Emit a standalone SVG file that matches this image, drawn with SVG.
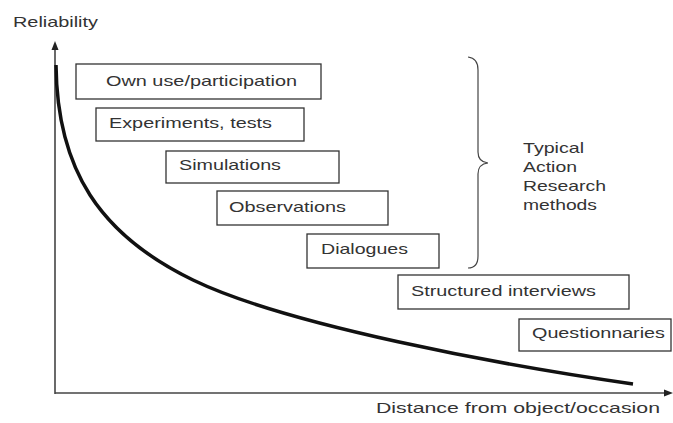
<svg xmlns="http://www.w3.org/2000/svg" width="673" height="423" viewBox="0 0 673 423">
<style>
.box{fill:#fff;stroke:#333;stroke-width:1.3}
.t{font-family:"Liberation Sans",Arial,sans-serif;font-size:15px;fill:#333}
.axis{stroke:#444;stroke-width:1.6;fill:none}
.head{fill:#222}
</style>
<rect width="673" height="423" fill="#fff"/>
<g id="connectors">
<path class="axis" d="M55,394 L55,48"/>
<polygon class="head" points="55,41 51.5,50 58.5,50"/>
<path class="axis" d="M55,393 L666,393"/>
<polygon class="head" points="673,393 664,389.5 664,396.5"/>
<path d="M56,65 C57,170 100,235 193,280 C286,325 500,365 633,384" fill="none" stroke="#111" stroke-width="3.5"/>
<path d="M468,57 Q478,58 478,70 L478,152 Q478,162 488,163 Q478,164 478,174 L478,256 Q478,268 468,268" fill="none" stroke="#444" stroke-width="1.2"/>
</g>
<text class="t" x="13" y="27" textLength="85" lengthAdjust="spacingAndGlyphs">Reliability</text>
<text class="t" x="376" y="413" textLength="284" lengthAdjust="spacingAndGlyphs">Distance from object/occasion</text>
<g id="n-own">
<rect class="box" x="76" y="64" width="245" height="35"/>
<text class="t" x="106" y="86" textLength="191" lengthAdjust="spacingAndGlyphs">Own use/participation</text>
</g>
<g id="n-exp">
<rect class="box" x="96" y="108" width="208" height="33"/>
<text class="t" x="109" y="128" textLength="163" lengthAdjust="spacingAndGlyphs">Experiments, tests</text>
</g>
<g id="n-sim">
<rect class="box" x="166" y="151" width="173" height="32"/>
<text class="t" x="179" y="170" textLength="102" lengthAdjust="spacingAndGlyphs">Simulations</text>
</g>
<g id="n-obs">
<rect class="box" x="217" y="191" width="171" height="34"/>
<text class="t" x="229" y="212" textLength="117" lengthAdjust="spacingAndGlyphs">Observations</text>
</g>
<g id="n-dia">
<rect class="box" x="307" y="234" width="132" height="34"/>
<text class="t" x="321" y="254" textLength="87" lengthAdjust="spacingAndGlyphs">Dialogues</text>
</g>
<g id="n-str">
<rect class="box" x="398" y="275" width="231" height="34"/>
<text class="t" x="411" y="296" textLength="185" lengthAdjust="spacingAndGlyphs">Structured interviews</text>
</g>
<g id="n-que">
<rect class="box" x="519" y="319" width="152" height="32"/>
<text class="t" x="532" y="338" textLength="133" lengthAdjust="spacingAndGlyphs">Questionnaries</text>
</g>
<g id="n-typical">
<text class="t" x="523" y="153" textLength="61" lengthAdjust="spacingAndGlyphs">Typical</text>
<text class="t" x="523" y="172" textLength="54" lengthAdjust="spacingAndGlyphs">Action</text>
<text class="t" x="523" y="191" textLength="83" lengthAdjust="spacingAndGlyphs">Research</text>
<text class="t" x="523" y="210" textLength="74" lengthAdjust="spacingAndGlyphs">methods</text>
</g>
</svg>
